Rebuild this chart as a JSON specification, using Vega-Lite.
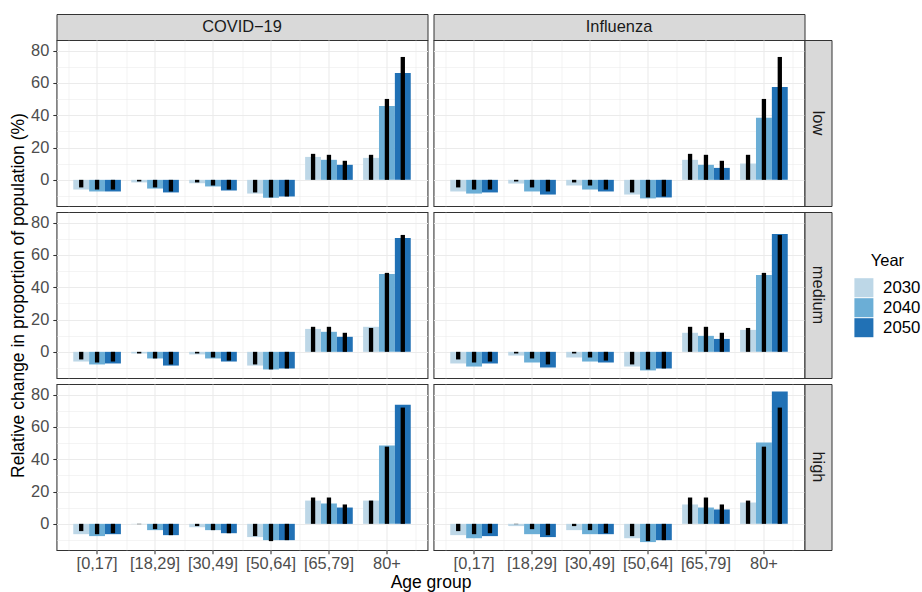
{
  "$schema": "https://vega.github.io/schema/vega-lite/v6.json",
  "autosize": {"type": "pad"},
  "padding": {"left": 8.5, "top": 8, "right": 5, "bottom": 5},
  "background": "white",
  "datasets": {
    "rates": [
      {"disease":"COVID-19","scenario":"low","age":"[0,17]","year":2030,"value":-6.0},
      {"disease":"COVID-19","scenario":"low","age":"[0,17]","year":2040,"value":-7.2},
      {"disease":"COVID-19","scenario":"low","age":"[0,17]","year":2050,"value":-7.2},
      {"disease":"COVID-19","scenario":"low","age":"[18,29]","year":2030,"value":-1.6},
      {"disease":"COVID-19","scenario":"low","age":"[18,29]","year":2040,"value":-5.4},
      {"disease":"COVID-19","scenario":"low","age":"[18,29]","year":2050,"value":-7.8},
      {"disease":"COVID-19","scenario":"low","age":"[30,49]","year":2030,"value":-2.1},
      {"disease":"COVID-19","scenario":"low","age":"[30,49]","year":2040,"value":-4.1},
      {"disease":"COVID-19","scenario":"low","age":"[30,49]","year":2050,"value":-6.6},
      {"disease":"COVID-19","scenario":"low","age":"[50,64]","year":2030,"value":-8.5},
      {"disease":"COVID-19","scenario":"low","age":"[50,64]","year":2040,"value":-11.1},
      {"disease":"COVID-19","scenario":"low","age":"[50,64]","year":2050,"value":-10.3},
      {"disease":"COVID-19","scenario":"low","age":"[65,79]","year":2030,"value":14.2},
      {"disease":"COVID-19","scenario":"low","age":"[65,79]","year":2040,"value":12.4},
      {"disease":"COVID-19","scenario":"low","age":"[65,79]","year":2050,"value":9.3},
      {"disease":"COVID-19","scenario":"low","age":"80+","year":2030,"value":13.6},
      {"disease":"COVID-19","scenario":"low","age":"80+","year":2040,"value":45.8},
      {"disease":"COVID-19","scenario":"low","age":"80+","year":2050,"value":66.2},
      {"disease":"Influenza","scenario":"low","age":"[0,17]","year":2030,"value":-7.2},
      {"disease":"Influenza","scenario":"low","age":"[0,17]","year":2040,"value":-8.5},
      {"disease":"Influenza","scenario":"low","age":"[0,17]","year":2050,"value":-7.8},
      {"disease":"Influenza","scenario":"low","age":"[18,29]","year":2030,"value":-2.3},
      {"disease":"Influenza","scenario":"low","age":"[18,29]","year":2040,"value":-7.2},
      {"disease":"Influenza","scenario":"low","age":"[18,29]","year":2050,"value":-9.1},
      {"disease":"Influenza","scenario":"low","age":"[30,49]","year":2030,"value":-3.5},
      {"disease":"Influenza","scenario":"low","age":"[30,49]","year":2040,"value":-6.0},
      {"disease":"Influenza","scenario":"low","age":"[30,49]","year":2050,"value":-7.2},
      {"disease":"Influenza","scenario":"low","age":"[50,64]","year":2030,"value":-9.1},
      {"disease":"Influenza","scenario":"low","age":"[50,64]","year":2040,"value":-11.5},
      {"disease":"Influenza","scenario":"low","age":"[50,64]","year":2050,"value":-10.9},
      {"disease":"Influenza","scenario":"low","age":"[65,79]","year":2030,"value":12.4},
      {"disease":"Influenza","scenario":"low","age":"[65,79]","year":2040,"value":9.3},
      {"disease":"Influenza","scenario":"low","age":"[65,79]","year":2050,"value":7.4},
      {"disease":"Influenza","scenario":"low","age":"80+","year":2030,"value":10.1},
      {"disease":"Influenza","scenario":"low","age":"80+","year":2040,"value":38.4},
      {"disease":"Influenza","scenario":"low","age":"80+","year":2050,"value":57.5},
      {"disease":"COVID-19","scenario":"medium","age":"[0,17]","year":2030,"value":-6.0},
      {"disease":"COVID-19","scenario":"medium","age":"[0,17]","year":2040,"value":-7.8},
      {"disease":"COVID-19","scenario":"medium","age":"[0,17]","year":2050,"value":-7.2},
      {"disease":"COVID-19","scenario":"medium","age":"[18,29]","year":2030,"value":-1.0},
      {"disease":"COVID-19","scenario":"medium","age":"[18,29]","year":2040,"value":-4.1},
      {"disease":"COVID-19","scenario":"medium","age":"[18,29]","year":2050,"value":-8.5},
      {"disease":"COVID-19","scenario":"medium","age":"[30,49]","year":2030,"value":-1.6},
      {"disease":"COVID-19","scenario":"medium","age":"[30,49]","year":2040,"value":-4.1},
      {"disease":"COVID-19","scenario":"medium","age":"[30,49]","year":2050,"value":-6.0},
      {"disease":"COVID-19","scenario":"medium","age":"[50,64]","year":2030,"value":-8.5},
      {"disease":"COVID-19","scenario":"medium","age":"[50,64]","year":2040,"value":-10.9},
      {"disease":"COVID-19","scenario":"medium","age":"[50,64]","year":2050,"value":-10.3},
      {"disease":"COVID-19","scenario":"medium","age":"[65,79]","year":2030,"value":14.2},
      {"disease":"COVID-19","scenario":"medium","age":"[65,79]","year":2040,"value":12.4},
      {"disease":"COVID-19","scenario":"medium","age":"[65,79]","year":2050,"value":9.3},
      {"disease":"COVID-19","scenario":"medium","age":"80+","year":2030,"value":15.5},
      {"disease":"COVID-19","scenario":"medium","age":"80+","year":2040,"value":48.2},
      {"disease":"COVID-19","scenario":"medium","age":"80+","year":2050,"value":70.5},
      {"disease":"Influenza","scenario":"medium","age":"[0,17]","year":2030,"value":-7.2},
      {"disease":"Influenza","scenario":"medium","age":"[0,17]","year":2040,"value":-9.1},
      {"disease":"Influenza","scenario":"medium","age":"[0,17]","year":2050,"value":-7.2},
      {"disease":"Influenza","scenario":"medium","age":"[18,29]","year":2030,"value":-2.3},
      {"disease":"Influenza","scenario":"medium","age":"[18,29]","year":2040,"value":-6.6},
      {"disease":"Influenza","scenario":"medium","age":"[18,29]","year":2050,"value":-9.7},
      {"disease":"Influenza","scenario":"medium","age":"[30,49]","year":2030,"value":-3.5},
      {"disease":"Influenza","scenario":"medium","age":"[30,49]","year":2040,"value":-6.0},
      {"disease":"Influenza","scenario":"medium","age":"[30,49]","year":2050,"value":-6.6},
      {"disease":"Influenza","scenario":"medium","age":"[50,64]","year":2030,"value":-9.1},
      {"disease":"Influenza","scenario":"medium","age":"[50,64]","year":2040,"value":-11.5},
      {"disease":"Influenza","scenario":"medium","age":"[50,64]","year":2050,"value":-10.3},
      {"disease":"Influenza","scenario":"medium","age":"[65,79]","year":2030,"value":11.8},
      {"disease":"Influenza","scenario":"medium","age":"[65,79]","year":2040,"value":9.9},
      {"disease":"Influenza","scenario":"medium","age":"[65,79]","year":2050,"value":8.0},
      {"disease":"Influenza","scenario":"medium","age":"80+","year":2030,"value":13.6},
      {"disease":"Influenza","scenario":"medium","age":"80+","year":2040,"value":47.6},
      {"disease":"Influenza","scenario":"medium","age":"80+","year":2050,"value":73.0},
      {"disease":"COVID-19","scenario":"high","age":"[0,17]","year":2030,"value":-6.4},
      {"disease":"COVID-19","scenario":"high","age":"[0,17]","year":2040,"value":-7.6},
      {"disease":"COVID-19","scenario":"high","age":"[0,17]","year":2050,"value":-6.4},
      {"disease":"COVID-19","scenario":"high","age":"[18,29]","year":2030,"value":-0.2},
      {"disease":"COVID-19","scenario":"high","age":"[18,29]","year":2040,"value":-3.9},
      {"disease":"COVID-19","scenario":"high","age":"[18,29]","year":2050,"value":-7.0},
      {"disease":"COVID-19","scenario":"high","age":"[30,49]","year":2030,"value":-2.1},
      {"disease":"COVID-19","scenario":"high","age":"[30,49]","year":2040,"value":-3.9},
      {"disease":"COVID-19","scenario":"high","age":"[30,49]","year":2050,"value":-5.8},
      {"disease":"COVID-19","scenario":"high","age":"[50,64]","year":2030,"value":-8.2},
      {"disease":"COVID-19","scenario":"high","age":"[50,64]","year":2040,"value":-10.1},
      {"disease":"COVID-19","scenario":"high","age":"[50,64]","year":2050,"value":-10.1},
      {"disease":"COVID-19","scenario":"high","age":"[65,79]","year":2030,"value":14.4},
      {"disease":"COVID-19","scenario":"high","age":"[65,79]","year":2040,"value":12.6},
      {"disease":"COVID-19","scenario":"high","age":"[65,79]","year":2050,"value":10.1},
      {"disease":"COVID-19","scenario":"high","age":"80+","year":2030,"value":14.4},
      {"disease":"COVID-19","scenario":"high","age":"80+","year":2040,"value":48.5},
      {"disease":"COVID-19","scenario":"high","age":"80+","year":2050,"value":73.8},
      {"disease":"Influenza","scenario":"high","age":"[0,17]","year":2030,"value":-7.0},
      {"disease":"Influenza","scenario":"high","age":"[0,17]","year":2040,"value":-8.9},
      {"disease":"Influenza","scenario":"high","age":"[0,17]","year":2050,"value":-7.6},
      {"disease":"Influenza","scenario":"high","age":"[18,29]","year":2030,"value":-1.4},
      {"disease":"Influenza","scenario":"high","age":"[18,29]","year":2040,"value":-6.4},
      {"disease":"Influenza","scenario":"high","age":"[18,29]","year":2050,"value":-8.2},
      {"disease":"Influenza","scenario":"high","age":"[30,49]","year":2030,"value":-3.9},
      {"disease":"Influenza","scenario":"high","age":"[30,49]","year":2040,"value":-6.4},
      {"disease":"Influenza","scenario":"high","age":"[30,49]","year":2050,"value":-6.4},
      {"disease":"Influenza","scenario":"high","age":"[50,64]","year":2030,"value":-8.9},
      {"disease":"Influenza","scenario":"high","age":"[50,64]","year":2040,"value":-11.3},
      {"disease":"Influenza","scenario":"high","age":"[50,64]","year":2050,"value":-10.1},
      {"disease":"Influenza","scenario":"high","age":"[65,79]","year":2030,"value":12.0},
      {"disease":"Influenza","scenario":"high","age":"[65,79]","year":2040,"value":10.1},
      {"disease":"Influenza","scenario":"high","age":"[65,79]","year":2050,"value":8.9},
      {"disease":"Influenza","scenario":"high","age":"80+","year":2030,"value":13.2},
      {"disease":"Influenza","scenario":"high","age":"80+","year":2040,"value":50.3},
      {"disease":"Influenza","scenario":"high","age":"80+","year":2050,"value":81.9}
    ],
    "population": [
      {"scenario":"low","age":"[0,17]","year":2030,"value":-4.7},
      {"scenario":"low","age":"[0,17]","year":2040,"value":-6.0},
      {"scenario":"low","age":"[0,17]","year":2050,"value":-6.0},
      {"scenario":"low","age":"[18,29]","year":2030,"value":-1.0},
      {"scenario":"low","age":"[18,29]","year":2040,"value":-4.7},
      {"scenario":"low","age":"[18,29]","year":2050,"value":-7.2},
      {"scenario":"low","age":"[30,49]","year":2030,"value":-1.6},
      {"scenario":"low","age":"[30,49]","year":2040,"value":-3.5},
      {"scenario":"low","age":"[30,49]","year":2050,"value":-6.0},
      {"scenario":"low","age":"[50,64]","year":2030,"value":-7.8},
      {"scenario":"low","age":"[50,64]","year":2040,"value":-10.9},
      {"scenario":"low","age":"[50,64]","year":2050,"value":-10.3},
      {"scenario":"low","age":"[65,79]","year":2030,"value":16.1},
      {"scenario":"low","age":"[65,79]","year":2040,"value":15.5},
      {"scenario":"low","age":"[65,79]","year":2050,"value":11.8},
      {"scenario":"low","age":"80+","year":2030,"value":15.5},
      {"scenario":"low","age":"80+","year":2040,"value":50.1},
      {"scenario":"low","age":"80+","year":2050,"value":76.1},
      {"scenario":"medium","age":"[0,17]","year":2030,"value":-4.7},
      {"scenario":"medium","age":"[0,17]","year":2040,"value":-6.6},
      {"scenario":"medium","age":"[0,17]","year":2050,"value":-6.0},
      {"scenario":"medium","age":"[18,29]","year":2030,"value":-1.0},
      {"scenario":"medium","age":"[18,29]","year":2040,"value":-4.1},
      {"scenario":"medium","age":"[18,29]","year":2050,"value":-7.8},
      {"scenario":"medium","age":"[30,49]","year":2030,"value":-1.0},
      {"scenario":"medium","age":"[30,49]","year":2040,"value":-3.5},
      {"scenario":"medium","age":"[30,49]","year":2050,"value":-5.4},
      {"scenario":"medium","age":"[50,64]","year":2030,"value":-7.8},
      {"scenario":"medium","age":"[50,64]","year":2040,"value":-10.9},
      {"scenario":"medium","age":"[50,64]","year":2050,"value":-10.3},
      {"scenario":"medium","age":"[65,79]","year":2030,"value":15.5},
      {"scenario":"medium","age":"[65,79]","year":2040,"value":15.5},
      {"scenario":"medium","age":"[65,79]","year":2050,"value":11.8},
      {"scenario":"medium","age":"80+","year":2030,"value":14.8},
      {"scenario":"medium","age":"80+","year":2040,"value":48.9},
      {"scenario":"medium","age":"80+","year":2050,"value":72.4},
      {"scenario":"high","age":"[0,17]","year":2030,"value":-4.5},
      {"scenario":"high","age":"[0,17]","year":2040,"value":-6.4},
      {"scenario":"high","age":"[0,17]","year":2050,"value":-5.8},
      {"scenario":"high","age":"[18,29]","year":2030,"value":-0.2},
      {"scenario":"high","age":"[18,29]","year":2040,"value":-3.3},
      {"scenario":"high","age":"[18,29]","year":2050,"value":-7.0},
      {"scenario":"high","age":"[30,49]","year":2030,"value":-1.4},
      {"scenario":"high","age":"[30,49]","year":2040,"value":-3.9},
      {"scenario":"high","age":"[30,49]","year":2050,"value":-5.8},
      {"scenario":"high","age":"[50,64]","year":2030,"value":-7.6},
      {"scenario":"high","age":"[50,64]","year":2040,"value":-10.7},
      {"scenario":"high","age":"[50,64]","year":2050,"value":-10.1},
      {"scenario":"high","age":"[65,79]","year":2030,"value":16.3},
      {"scenario":"high","age":"[65,79]","year":2040,"value":16.3},
      {"scenario":"high","age":"[65,79]","year":2050,"value":12.0},
      {"scenario":"high","age":"80+","year":2030,"value":14.4},
      {"scenario":"high","age":"80+","year":2040,"value":47.8},
      {"scenario":"high","age":"80+","year":2050,"value":72.0}
    ]
  },
  "columns": 4,
  "spacing": 0,
  "bounds": "flush",
  "concat": [
    {
      "width": 371, "height": 26,
      "view": {"fill": "#D9D9D9", "stroke": "#333333"},
      "data": {"values": [{"label": "COVID−19"}]},
      "mark": {"type": "text", "fontSize": 16.4, "color": "#1A1A1A", "align": "center", "baseline": "middle"},
      "encoding": {"text": {"field": "label"}}
    },
    {"width": 6, "height": 1, "view": {"stroke": null}, "data": {"values": [{"label": ""}]}, "mark": {"type": "text"}, "encoding": {"text": {"field": "label"}}},
    {
      "width": 371, "height": 26,
      "view": {"fill": "#D9D9D9", "stroke": "#333333"},
      "data": {"values": [{"label": "Influenza"}]},
      "mark": {"type": "text", "fontSize": 16.4, "color": "#1A1A1A", "align": "center", "baseline": "middle"},
      "encoding": {"text": {"field": "label"}}
    },
    {"width": 27, "height": 1, "view": {"stroke": null}, "data": {"values": [{"label": ""}]}, "mark": {"type": "text"}, "encoding": {"text": {"field": "label"}}},

    {
      "width": 371, "height": 166,
      "layer": [
        {
          "data": {"name": "rates"},
          "transform": [{"filter": {"and": [{"field": "disease", "equal": "COVID-19"}, {"field": "scenario", "equal": "low"}]}}],
          "mark": {"type": "bar"},
          "encoding": {
            "x": {"field": "age", "type": "nominal", "sort": ["[0,17]","[18,29]","[30,49]","[50,64]","[65,79]","80+"], "scale": {"paddingInner": 0, "paddingOuter": 0.2}, "axis": {"orient": "top", "title": null, "labels": false, "ticks": false, "domain": false, "grid": true, "gridWidth": 0.53, "tickBand": "extent"}},
            "xOffset": {"field": "year", "type": "nominal", "scale": {"paddingInner": 0, "paddingOuter": 0.325}},
            "y": {"field": "value", "type": "quantitative", "scale": {"domain": [-16.2, 86.6], "nice": false, "zero": false}, "axis": {"orient": "right", "title": null, "values": [-10, 10, 30, 50, 70], "labels": false, "ticks": false, "domain": false, "grid": true, "gridWidth": 0.53}},
            "y2": {"datum": 0},
            "color": {"field": "year", "type": "nominal", "scale": {"domain": [2030, 2040, 2050], "range": ["#BDD7E7", "#6BAED6", "#2171B5"]}, "legend": {"title": "Year"}}
          }
        },
        {
          "data": {"name": "population"},
          "transform": [{"filter": {"field": "scenario", "equal": "low"}}],
          "mark": {"type": "rule", "strokeWidth": 4.3, "strokeCap": "butt", "color": "#000000"},
          "encoding": {
            "x": {"field": "age", "type": "nominal", "sort": ["[0,17]","[18,29]","[30,49]","[50,64]","[65,79]","80+"], "axis": {"title": null, "labels": false, "ticks": false, "domain": false, "grid": true, "gridWidth": 1.07}},
            "xOffset": {"field": "year", "type": "nominal"},
            "y": {"field": "value", "type": "quantitative", "axis": {"title": null, "values": [0, 20, 40, 60, 80], "grid": true, "gridWidth": 1.07, "labelPadding": 4}},
            "y2": {"datum": 0}
          }
        }
      ],
      "resolve": {"axis": {"x": "independent", "y": "independent"}}
    },
    {"width": 1, "height": 1, "view": {"stroke": null}, "data": {"values": [{"label": ""}]}, "mark": {"type": "text"}, "encoding": {"text": {"field": "label"}}},
    {
      "width": 371, "height": 166,
      "layer": [
        {
          "data": {"name": "rates"},
          "transform": [{"filter": {"and": [{"field": "disease", "equal": "Influenza"}, {"field": "scenario", "equal": "low"}]}}],
          "mark": {"type": "bar"},
          "encoding": {
            "x": {"field": "age", "type": "nominal", "sort": ["[0,17]","[18,29]","[30,49]","[50,64]","[65,79]","80+"], "scale": {"paddingInner": 0, "paddingOuter": 0.2}, "axis": {"orient": "top", "title": null, "labels": false, "ticks": false, "domain": false, "grid": true, "gridWidth": 0.53, "tickBand": "extent"}},
            "xOffset": {"field": "year", "type": "nominal", "scale": {"paddingInner": 0, "paddingOuter": 0.325}},
            "y": {"field": "value", "type": "quantitative", "scale": {"domain": [-16.2, 86.6], "nice": false, "zero": false}, "axis": {"orient": "right", "title": null, "values": [-10, 10, 30, 50, 70], "labels": false, "ticks": false, "domain": false, "grid": true, "gridWidth": 0.53}},
            "y2": {"datum": 0},
            "color": {"field": "year", "type": "nominal", "scale": {"domain": [2030, 2040, 2050], "range": ["#BDD7E7", "#6BAED6", "#2171B5"]}, "legend": {"title": "Year"}}
          }
        },
        {
          "data": {"name": "population"},
          "transform": [{"filter": {"field": "scenario", "equal": "low"}}],
          "mark": {"type": "rule", "strokeWidth": 4.3, "strokeCap": "butt", "color": "#000000"},
          "encoding": {
            "x": {"field": "age", "type": "nominal", "sort": ["[0,17]","[18,29]","[30,49]","[50,64]","[65,79]","80+"], "axis": {"title": null, "labels": false, "ticks": false, "domain": false, "grid": true, "gridWidth": 1.07}},
            "xOffset": {"field": "year", "type": "nominal"},
            "y": {"field": "value", "type": "quantitative", "axis": {"title": null, "values": [0, 20, 40, 60, 80], "labels": false, "ticks": false, "grid": true, "gridWidth": 1.07}},
            "y2": {"datum": 0}
          }
        }
      ],
      "resolve": {"axis": {"x": "independent", "y": "independent"}}
    },
    {
      "width": 27, "height": 166,
      "view": {"fill": "#D9D9D9", "stroke": "#333333"},
      "data": {"values": [{"label": "low"}]},
      "mark": {"type": "text", "angle": 90, "fontSize": 16.4, "color": "#1A1A1A", "align": "center", "baseline": "middle"},
      "encoding": {"text": {"field": "label"}}
    },

    {"width": 1, "height": 6, "view": {"stroke": null}, "data": {"values": [{"label": ""}]}, "mark": {"type": "text"}, "encoding": {"text": {"field": "label"}}},
    {"width": 1, "height": 1, "view": {"stroke": null}, "data": {"values": [{"label": ""}]}, "mark": {"type": "text"}, "encoding": {"text": {"field": "label"}}},
    {"width": 1, "height": 1, "view": {"stroke": null}, "data": {"values": [{"label": ""}]}, "mark": {"type": "text"}, "encoding": {"text": {"field": "label"}}},
    {"width": 1, "height": 1, "view": {"stroke": null}, "data": {"values": [{"label": ""}]}, "mark": {"type": "text"}, "encoding": {"text": {"field": "label"}}},

    {
      "width": 371, "height": 166,
      "layer": [
        {
          "data": {"name": "rates"},
          "transform": [{"filter": {"and": [{"field": "disease", "equal": "COVID-19"}, {"field": "scenario", "equal": "medium"}]}}],
          "mark": {"type": "bar"},
          "encoding": {
            "x": {"field": "age", "type": "nominal", "sort": ["[0,17]","[18,29]","[30,49]","[50,64]","[65,79]","80+"], "scale": {"paddingInner": 0, "paddingOuter": 0.2}, "axis": {"orient": "top", "title": null, "labels": false, "ticks": false, "domain": false, "grid": true, "gridWidth": 0.53, "tickBand": "extent"}},
            "xOffset": {"field": "year", "type": "nominal", "scale": {"paddingInner": 0, "paddingOuter": 0.325}},
            "y": {"field": "value", "type": "quantitative", "scale": {"domain": [-16.2, 86.6], "nice": false, "zero": false}, "axis": {"orient": "right", "title": null, "values": [-10, 10, 30, 50, 70], "labels": false, "ticks": false, "domain": false, "grid": true, "gridWidth": 0.53}},
            "y2": {"datum": 0},
            "color": {"field": "year", "type": "nominal", "scale": {"domain": [2030, 2040, 2050], "range": ["#BDD7E7", "#6BAED6", "#2171B5"]}, "legend": {"title": "Year"}}
          }
        },
        {
          "data": {"name": "population"},
          "transform": [{"filter": {"field": "scenario", "equal": "medium"}}],
          "mark": {"type": "rule", "strokeWidth": 4.3, "strokeCap": "butt", "color": "#000000"},
          "encoding": {
            "x": {"field": "age", "type": "nominal", "sort": ["[0,17]","[18,29]","[30,49]","[50,64]","[65,79]","80+"], "axis": {"title": null, "labels": false, "ticks": false, "domain": false, "grid": true, "gridWidth": 1.07}},
            "xOffset": {"field": "year", "type": "nominal"},
            "y": {"field": "value", "type": "quantitative", "axis": {"title": "Relative change in proportion of population (%)", "titlePadding": 3, "values": [0, 20, 40, 60, 80], "grid": true, "gridWidth": 1.07, "labelPadding": 4}},
            "y2": {"datum": 0}
          }
        }
      ],
      "resolve": {"axis": {"x": "independent", "y": "independent"}}
    },
    {"width": 1, "height": 1, "view": {"stroke": null}, "data": {"values": [{"label": ""}]}, "mark": {"type": "text"}, "encoding": {"text": {"field": "label"}}},
    {
      "width": 371, "height": 166,
      "layer": [
        {
          "data": {"name": "rates"},
          "transform": [{"filter": {"and": [{"field": "disease", "equal": "Influenza"}, {"field": "scenario", "equal": "medium"}]}}],
          "mark": {"type": "bar"},
          "encoding": {
            "x": {"field": "age", "type": "nominal", "sort": ["[0,17]","[18,29]","[30,49]","[50,64]","[65,79]","80+"], "scale": {"paddingInner": 0, "paddingOuter": 0.2}, "axis": {"orient": "top", "title": null, "labels": false, "ticks": false, "domain": false, "grid": true, "gridWidth": 0.53, "tickBand": "extent"}},
            "xOffset": {"field": "year", "type": "nominal", "scale": {"paddingInner": 0, "paddingOuter": 0.325}},
            "y": {"field": "value", "type": "quantitative", "scale": {"domain": [-16.2, 86.6], "nice": false, "zero": false}, "axis": {"orient": "right", "title": null, "values": [-10, 10, 30, 50, 70], "labels": false, "ticks": false, "domain": false, "grid": true, "gridWidth": 0.53}},
            "y2": {"datum": 0},
            "color": {"field": "year", "type": "nominal", "scale": {"domain": [2030, 2040, 2050], "range": ["#BDD7E7", "#6BAED6", "#2171B5"]}, "legend": {"title": "Year"}}
          }
        },
        {
          "data": {"name": "population"},
          "transform": [{"filter": {"field": "scenario", "equal": "medium"}}],
          "mark": {"type": "rule", "strokeWidth": 4.3, "strokeCap": "butt", "color": "#000000"},
          "encoding": {
            "x": {"field": "age", "type": "nominal", "sort": ["[0,17]","[18,29]","[30,49]","[50,64]","[65,79]","80+"], "axis": {"title": null, "labels": false, "ticks": false, "domain": false, "grid": true, "gridWidth": 1.07}},
            "xOffset": {"field": "year", "type": "nominal"},
            "y": {"field": "value", "type": "quantitative", "axis": {"title": null, "values": [0, 20, 40, 60, 80], "labels": false, "ticks": false, "grid": true, "gridWidth": 1.07}},
            "y2": {"datum": 0}
          }
        }
      ],
      "resolve": {"axis": {"x": "independent", "y": "independent"}}
    },
    {
      "width": 27, "height": 166,
      "view": {"fill": "#D9D9D9", "stroke": "#333333"},
      "data": {"values": [{"label": "medium"}]},
      "mark": {"type": "text", "angle": 90, "fontSize": 16.4, "color": "#1A1A1A", "align": "center", "baseline": "middle"},
      "encoding": {"text": {"field": "label"}}
    },

    {"width": 1, "height": 6, "view": {"stroke": null}, "data": {"values": [{"label": ""}]}, "mark": {"type": "text"}, "encoding": {"text": {"field": "label"}}},
    {"width": 1, "height": 1, "view": {"stroke": null}, "data": {"values": [{"label": ""}]}, "mark": {"type": "text"}, "encoding": {"text": {"field": "label"}}},
    {"width": 1, "height": 1, "view": {"stroke": null}, "data": {"values": [{"label": ""}]}, "mark": {"type": "text"}, "encoding": {"text": {"field": "label"}}},
    {"width": 1, "height": 1, "view": {"stroke": null}, "data": {"values": [{"label": ""}]}, "mark": {"type": "text"}, "encoding": {"text": {"field": "label"}}},

    {
      "width": 371, "height": 166,
      "layer": [
        {
          "data": {"name": "rates"},
          "transform": [{"filter": {"and": [{"field": "disease", "equal": "COVID-19"}, {"field": "scenario", "equal": "high"}]}}],
          "mark": {"type": "bar"},
          "encoding": {
            "x": {"field": "age", "type": "nominal", "sort": ["[0,17]","[18,29]","[30,49]","[50,64]","[65,79]","80+"], "scale": {"paddingInner": 0, "paddingOuter": 0.2}, "axis": {"orient": "top", "title": null, "labels": false, "ticks": false, "domain": false, "grid": true, "gridWidth": 0.53, "tickBand": "extent"}},
            "xOffset": {"field": "year", "type": "nominal", "scale": {"paddingInner": 0, "paddingOuter": 0.325}},
            "y": {"field": "value", "type": "quantitative", "scale": {"domain": [-16.2, 86.6], "nice": false, "zero": false}, "axis": {"orient": "right", "title": null, "values": [-10, 10, 30, 50, 70], "labels": false, "ticks": false, "domain": false, "grid": true, "gridWidth": 0.53}},
            "y2": {"datum": 0},
            "color": {"field": "year", "type": "nominal", "scale": {"domain": [2030, 2040, 2050], "range": ["#BDD7E7", "#6BAED6", "#2171B5"]}, "legend": {"title": "Year"}}
          }
        },
        {
          "data": {"name": "population"},
          "transform": [{"filter": {"field": "scenario", "equal": "high"}}],
          "mark": {"type": "rule", "strokeWidth": 4.3, "strokeCap": "butt", "color": "#000000"},
          "encoding": {
            "x": {"field": "age", "type": "nominal", "sort": ["[0,17]","[18,29]","[30,49]","[50,64]","[65,79]","80+"], "axis": {"title": "Age group", "titleX": 374, "titleAlign": "center", "titlePadding": 1, "labelAngle": 0, "labelPadding": 2, "domain": false, "grid": true, "gridWidth": 1.07}},
            "xOffset": {"field": "year", "type": "nominal"},
            "y": {"field": "value", "type": "quantitative", "axis": {"title": null, "values": [0, 20, 40, 60, 80], "grid": true, "gridWidth": 1.07, "labelPadding": 4}},
            "y2": {"datum": 0}
          }
        }
      ],
      "resolve": {"axis": {"x": "independent", "y": "independent"}}
    },
    {"width": 1, "height": 1, "view": {"stroke": null}, "data": {"values": [{"label": ""}]}, "mark": {"type": "text"}, "encoding": {"text": {"field": "label"}}},
    {
      "width": 371, "height": 166,
      "layer": [
        {
          "data": {"name": "rates"},
          "transform": [{"filter": {"and": [{"field": "disease", "equal": "Influenza"}, {"field": "scenario", "equal": "high"}]}}],
          "mark": {"type": "bar"},
          "encoding": {
            "x": {"field": "age", "type": "nominal", "sort": ["[0,17]","[18,29]","[30,49]","[50,64]","[65,79]","80+"], "scale": {"paddingInner": 0, "paddingOuter": 0.2}, "axis": {"orient": "top", "title": null, "labels": false, "ticks": false, "domain": false, "grid": true, "gridWidth": 0.53, "tickBand": "extent"}},
            "xOffset": {"field": "year", "type": "nominal", "scale": {"paddingInner": 0, "paddingOuter": 0.325}},
            "y": {"field": "value", "type": "quantitative", "scale": {"domain": [-16.2, 86.6], "nice": false, "zero": false}, "axis": {"orient": "right", "title": null, "values": [-10, 10, 30, 50, 70], "labels": false, "ticks": false, "domain": false, "grid": true, "gridWidth": 0.53}},
            "y2": {"datum": 0},
            "color": {"field": "year", "type": "nominal", "scale": {"domain": [2030, 2040, 2050], "range": ["#BDD7E7", "#6BAED6", "#2171B5"]}, "legend": {"title": "Year"}}
          }
        },
        {
          "data": {"name": "population"},
          "transform": [{"filter": {"field": "scenario", "equal": "high"}}],
          "mark": {"type": "rule", "strokeWidth": 4.3, "strokeCap": "butt", "color": "#000000"},
          "encoding": {
            "x": {"field": "age", "type": "nominal", "sort": ["[0,17]","[18,29]","[30,49]","[50,64]","[65,79]","80+"], "axis": {"title": null, "labelAngle": 0, "labelPadding": 2, "domain": false, "grid": true, "gridWidth": 1.07}},
            "xOffset": {"field": "year", "type": "nominal"},
            "y": {"field": "value", "type": "quantitative", "axis": {"title": null, "values": [0, 20, 40, 60, 80], "labels": false, "ticks": false, "grid": true, "gridWidth": 1.07}},
            "y2": {"datum": 0}
          }
        }
      ],
      "resolve": {"axis": {"x": "independent", "y": "independent"}}
    },
    {
      "width": 27, "height": 166,
      "view": {"fill": "#D9D9D9", "stroke": "#333333"},
      "data": {"values": [{"label": "high"}]},
      "mark": {"type": "text", "angle": 90, "fontSize": 16.4, "color": "#1A1A1A", "align": "center", "baseline": "middle"},
      "encoding": {"text": {"field": "label"}}
    }
  ],
  "config": {
    "font": "Liberation Sans",
    "view": {"stroke": "#333333", "strokeWidth": 1.07},
    "axis": {
      "labelFont": "Liberation Sans", "labelColor": "#4D4D4D", "labelFontSize": 16.4,
      "titleFont": "Liberation Sans", "titleFontSize": 17.5, "titleFontWeight": "normal", "titleColor": "#000000",
      "tickColor": "#333333", "tickSize": 3.7, "tickWidth": 1.07, "gridColor": "#EBEBEB", "domain": false
    },
    "legend": {
      "orient": "none", "legendX": 797.9, "legendY": 238.7, "padding": 0,
      "titleFont": "Liberation Sans", "titleFontSize": 16.5, "titleFontWeight": "normal", "titleColor": "#000000",
      "titleAnchor": "middle", "titleAlign": "center", "titlePadding": 9,
      "labelFont": "Liberation Sans", "labelFontSize": 16.8, "labelColor": "#000000", "labelOffset": 9.7,
      "symbolType": "square", "symbolSize": 361, "symbolStrokeWidth": 0, "symbolOpacity": 1, "rowPadding": 1
    }
  }
}
